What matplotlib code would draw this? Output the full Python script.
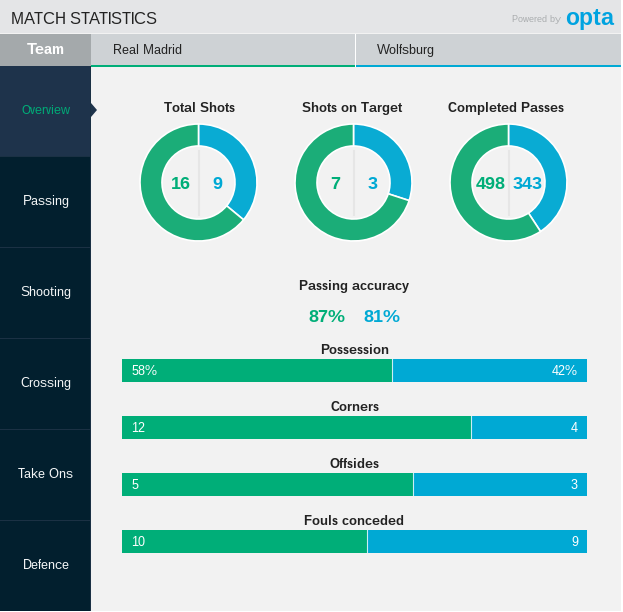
import matplotlib
matplotlib.use('Agg')
import matplotlib.pyplot as plt
from matplotlib.patches import Rectangle, Polygon

W, H = 623, 612
GREEN = '#00AE78'
DONUT_GREEN = '#1BAD78'
BLUE = '#00A9D4'
DONUT_BLUE = '#09ABD3'

plt.rcParams['font.family'] = ['Liberation Sans', 'DejaVu Sans']
plt.rcParams['text.hinting'] = 'native'
plt.rcParams['text.hinting_factor'] = 1

# ── data ─────────────────────────────────────────────────────────────────────
teams = ['Real Madrid', 'Wolfsburg']
menu = ['Overview', 'Passing', 'Shooting', 'Crossing', 'Take Ons', 'Defence']

donut_titles = ['Total Shots', 'Shots on Target', 'Completed Passes']
donut_home = [16, 7, 498]
donut_away = [9, 3, 343]

accuracy = ['87%', '81%']

bar_titles = ['Possession', 'Corners', 'Offsides', 'Fouls conceded']
bar_home = [58, 12, 5, 10]
bar_away = [42, 4, 3, 9]
bar_suffix = ['%', '', '', '']


def axes_px(fig, x0, y0, x1, y1):
    # pixel box, y measured from the top of the image
    return fig.add_axes([x0 / W, 1 - y1 / H, (x1 - x0) / W, (y1 - y0) / H])


fig = plt.figure(figsize=(W / 100, H / 100), dpi=100, facecolor='white')
bg = fig.add_axes([0, 0, 1, 1])
bg.set_xlim(0, W)
bg.set_ylim(H, 0)
bg.axis('off')


def box(x0, y0, x1, y1, color, z=1):
    bg.add_patch(Rectangle((x0, y0), x1 - x0, y1 - y0, fc=color, ec='none', zorder=z))


# ── header ───────────────────────────────────────────────────────────────────
box(0, 0, 621, 611, '#F2F2F2')
box(0, 0, 621, 33, '#E4E5E7')
box(0, 34, 91, 66, '#A4A9AB')
box(91, 34, 621, 65, '#CED2D5')
box(91, 65, 355, 67, GREEN, 2)
box(356, 65, 621, 67, BLUE, 2)
box(355, 34, 356, 67, 'white', 3)

bg.text(11, 23.5, 'MATCH STATISTICS', fontsize=11.4, color='#222222', va='baseline')
bg.text(561, 22.5, 'Powered by', fontsize=6.4, color='#A9ACAE', ha='right', va='baseline')
bg.text(565, 25, 'opta', fontsize=16.5, color='#00A3E0', fontweight='bold', ha='left', va='baseline')
bg.text(46, 54, 'Team', fontsize=10.8, color='white', fontweight='bold', ha='center', va='baseline')
bg.text(113, 54, teams[0], fontsize=9, color='#222222', va='baseline')
bg.text(377, 54, teams[1], fontsize=9, color='#222222', va='baseline')

# ── side menu ────────────────────────────────────────────────────────────────
box(0, 66, 91, 611, '#021F2E')
box(0, 66, 91, 156, '#1E334B', 2)
box(90, 66, 91, 611, '#1B3144', 3)
for i, name in enumerate(menu):
    base = 114 + 91 * i
    if i > 0:
        box(0, 156 + 91 * (i - 1), 90, 157 + 91 * (i - 1), '#1B3144', 3)
    col = GREEN if i == 0 else '#F4F6F7'
    size = 8.6 if i == 0 else 9
    bg.text(46, base, name, fontsize=size, color=col, ha='center', va='baseline', zorder=4)
bg.add_patch(Polygon([(91, 103), (97, 110), (91, 117)], fc='#1E334B', ec='none', zorder=3))

# ── donuts ───────────────────────────────────────────────────────────────────
title_x = [199, 352.5, 505.5]
R = 58.5
for i, title in enumerate(donut_titles):
    cx = 198.5 + 155 * i
    cy = 182.5
    bg.text(title_x[i], 112, title, fontsize=9.7, fontweight='bold', color='#222222',
            ha='center', va='baseline')
    ax = axes_px(fig, cx - 60, cy - 60, cx + 60, cy + 60)
    ax.pie([donut_away[i], donut_home[i]], colors=[DONUT_BLUE, DONUT_GREEN],
           startangle=90, counterclock=False, radius=1.0,
           wedgeprops=dict(width=22 / R, edgecolor='white', linewidth=1.2))
    ax.set_xlim(-60 / R, 60 / R)
    ax.set_ylim(-60 / R, 60 / R)
    ax.patch.set_visible(False)
    ax.plot([0, 0], [-32 / R, 32 / R], color='#E6E6E6', lw=1.5)
    bg.text(cx - 18, cy + 6.5, str(donut_home[i]), fontsize=13, fontweight='bold',
            color=GREEN, ha='center', va='baseline', zorder=5)
    bg.text(cx + 19, cy + 6.5, str(donut_away[i]), fontsize=13, fontweight='bold',
            color=BLUE, ha='center', va='baseline', zorder=5)

# ── passing accuracy ─────────────────────────────────────────────────────────
bg.text(354, 290, 'Passing accuracy', fontsize=9.4, fontweight='bold', color='#222222',
        ha='center', va='baseline')
bg.text(326.5, 322.5, accuracy[0], fontsize=13.2, fontweight='bold', color=GREEN,
        ha='center', va='baseline')
bg.text(381.5, 322.5, accuracy[1], fontsize=13.2, fontweight='bold', color=BLUE,
        ha='center', va='baseline')

# ── stat bars ────────────────────────────────────────────────────────────────
for i, title in enumerate(bar_titles):
    top = 359 + 57 * i
    bg.text(354.5, top - 5, title, fontsize=9.4, fontweight='bold', color='#222222',
            ha='center', va='baseline')
    ax = axes_px(fig, 122, top, 587, top + 23)
    total = bar_home[i] + bar_away[i]
    ax.barh([0], [bar_home[i]], height=1, color=GREEN)
    ax.barh([0], [bar_away[i]], left=[bar_home[i]], height=1, color=BLUE)
    ax.axvline(bar_home[i], color='white', lw=0.8, alpha=0.8)
    ax.set_xlim(0, total)
    ax.set_ylim(-0.5, 0.5)
    ax.axis('off')
    ax.text(9 / 465, 7 / 23, f'{bar_home[i]}{bar_suffix[i]}', transform=ax.transAxes,
            fontsize=9.6, color='white', va='baseline')
    ax.text(1 - 9 / 465, 7 / 23, f'{bar_away[i]}{bar_suffix[i]}', transform=ax.transAxes,
            fontsize=9.6, color='white', va='baseline', ha='right')

fig.savefig('out.png', dpi=100, facecolor='white')
